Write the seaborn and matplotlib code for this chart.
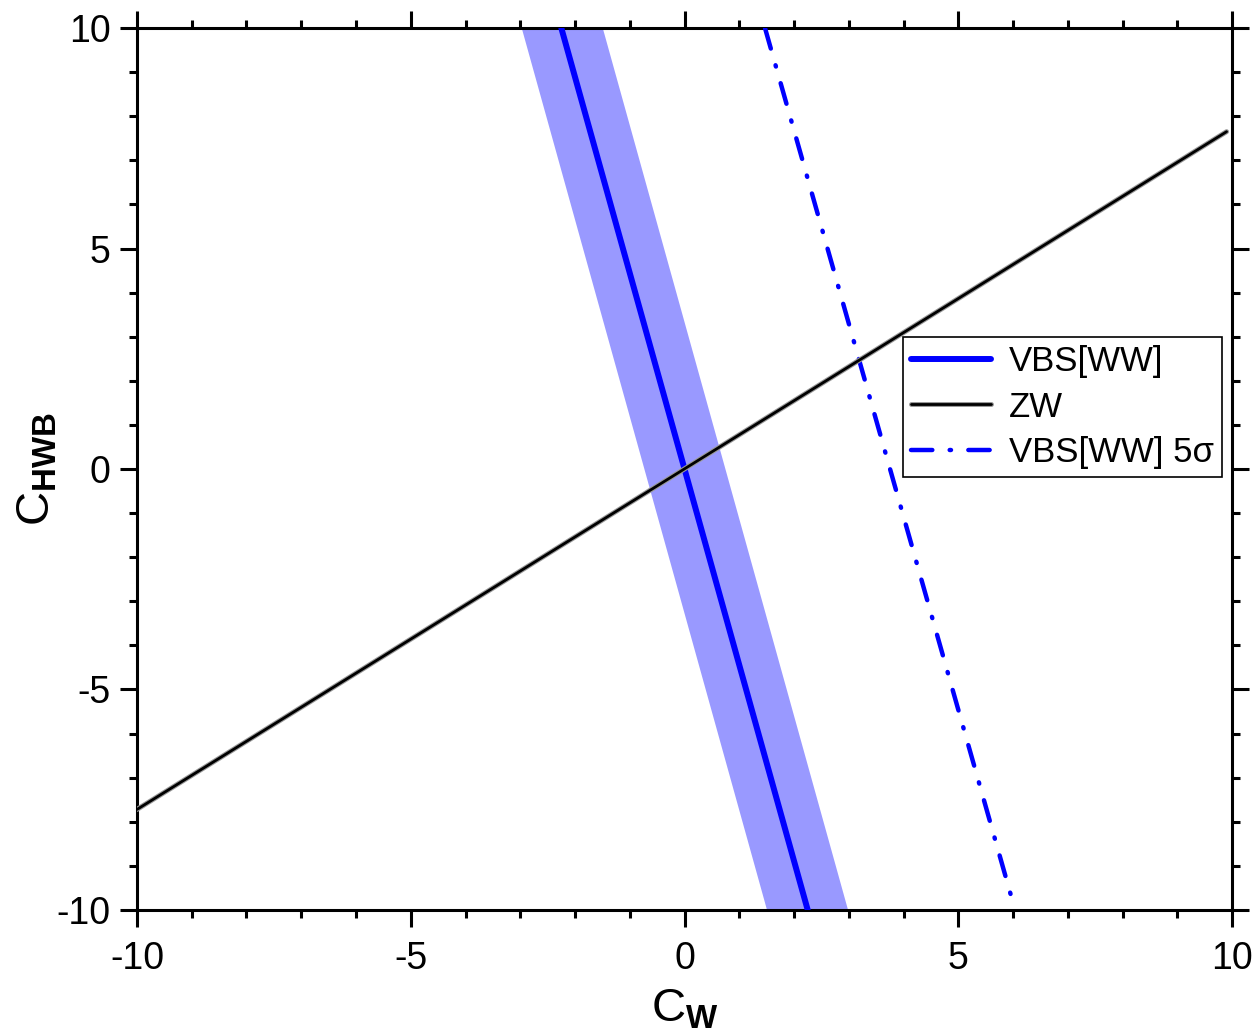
import numpy as np
import pandas as pd
import seaborn as sns
import matplotlib.pyplot as plt
from matplotlib.ticker import MultipleLocator
import matplotlib.patheffects as pe

# Valores
vbs_x = [-2.25, 2.25]
vbs_y = [10.0, -10.0]
banda_esq = [-2.98, 1.50]
banda_dir = [-1.50, 2.98]
zw_x = [-10.0, 9.9]
zw_y = [-7.72, 7.65]
sig_x = [1.47, 5.98]
sig_y = [10.0, -9.75]

sns.set_theme(style='ticks')
plt.rcParams['font.family'] = ['Liberation Sans', 'DejaVu Sans']
plt.rcParams['mathtext.fontset'] = 'custom'
plt.rcParams['mathtext.rm'] = 'Liberation Sans'
plt.rcParams['mathtext.bf'] = 'Liberation Sans:bold'
plt.rcParams['axes.unicode_minus'] = False

fig = plt.figure(figsize=(12.59, 10.35), dpi=100)
ax = fig.add_axes([0.1088, 0.1208, 0.8698, 0.8521])

# Banda de incerteza
ax.fill_betweenx(vbs_y, banda_esq, banda_dir, color='#9999ff', lw=0, zorder=1)

df_vbs = pd.DataFrame({'x': vbs_x, 'y': vbs_y})
df_zw = pd.DataFrame({'x': zw_x, 'y': zw_y})
df_sig = pd.DataFrame({'x': sig_x, 'y': sig_y})

sns.lineplot(data=df_vbs, x='x', y='y', sort=False, estimator=None, ax=ax,
             color='#0000ff', lw=4.3, label='VBS[WW]', zorder=3)
sns.lineplot(data=df_zw, x='x', y='y', sort=False, estimator=None, ax=ax,
             color='black', lw=2.0, label='ZW', zorder=4,
             path_effects=[pe.Stroke(linewidth=3.6, foreground='#999999'), pe.Normal()])
sns.lineplot(data=df_sig, x='x', y='y', sort=False, estimator=None, ax=ax,
             color='#0000ff', lw=3.2, label='VBS[WW] 5σ', zorder=3,
             linestyle=(0, (4.8, 3.9, 0.3, 3.9)), dash_capstyle='round')

ax.set_xlim(-10, 10)
ax.set_ylim(-10, 10)
ax.xaxis.set_major_locator(MultipleLocator(5))
ax.xaxis.set_minor_locator(MultipleLocator(1))
ax.yaxis.set_major_locator(MultipleLocator(5))
ax.yaxis.set_minor_locator(MultipleLocator(1))

for s in ax.spines.values():
    s.set_linewidth(2.2)
    s.set_color('black')
ax.tick_params(which='both', direction='out', top=True, right=True, width=2.2,
               color='black', labelcolor='black')
ax.tick_params(which='major', length=12, labelsize=27, pad=7)
ax.tick_params(axis='x', which='major', pad=10)
ax.tick_params(which='minor', length=6)

ax.set_xlabel(r'$\mathrm{C}_{\mathbf{W}}$', fontsize=34, labelpad=8, color='black')
ax.set_ylabel(r'$\mathrm{C}_{\mathbf{HWB}}$', fontsize=34, labelpad=-2, color='black')

leg = ax.legend(loc='upper right', bbox_to_anchor=(0.991, 0.650), borderaxespad=0,
                fontsize=25, frameon=True, fancybox=False, edgecolor='black',
                framealpha=1, handlelength=2.3, handletextpad=0.5,
                labelspacing=0.35, borderpad=0.25)
leg.get_frame().set_linewidth(1.2)
for t in leg.get_texts():
    t.set_color('black')

fig.savefig('out.png', dpi=100)
